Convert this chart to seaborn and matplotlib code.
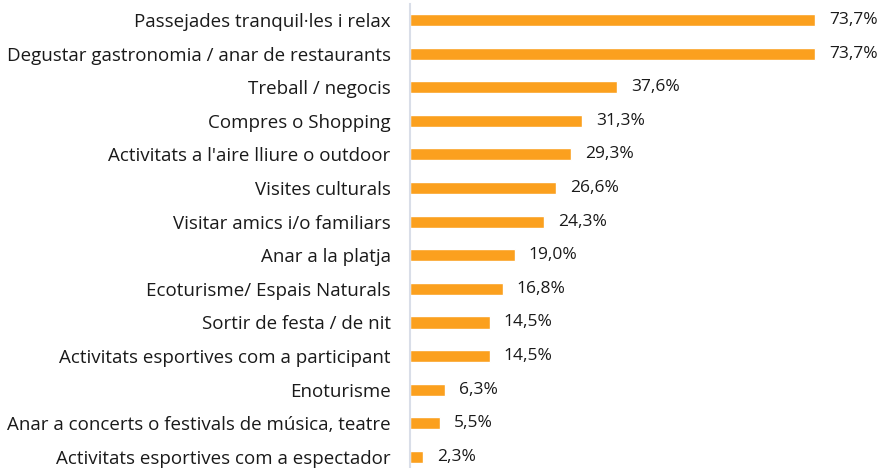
import pandas as pd
import matplotlib.pyplot as plt
import seaborn as sns

# Motius de la visita (%)
categories = [
    "Passejades tranquil·les i relax",
    "Degustar gastronomia / anar de restaurants",
    "Treball / negocis",
    "Compres o Shopping",
    "Activitats a l'aire lliure o outdoor",
    "Visites culturals",
    "Visitar amics i/o familiars",
    "Anar a la platja",
    "Ecoturisme/ Espais Naturals",
    "Sortir de festa / de nit",
    "Activitats esportives com a participant",
    "Enoturisme",
    "Anar a concerts o festivals de música, teatre",
    "Activitats esportives com a espectador",
]
values = [73.7, 73.7, 37.6, 31.3, 29.3, 26.6, 24.3, 19.0, 16.8, 14.5, 14.5, 6.3, 5.5, 2.3]

df = pd.DataFrame({"motiu": categories, "pct": values})

sns.set_style("white")
plt.rcParams['font.family'] = ['Open Sans', 'DejaVu Sans']

fig = plt.figure(figsize=(8.82, 4.68), dpi=100)
ax = fig.add_axes([0.465, 0.0, 0.535, 0.9915])

sns.barplot(data=df, x="pct", y="motiu", orient="h", color="#FBA01E",
            saturation=1, width=0.36, ax=ax)

ax.set_xlim(0, 85.8)
ax.set_ylim(13.33, -0.476)
ax.set_xlabel("")
ax.set_ylabel("")
ax.set_xticks([])
ax.tick_params(axis="y", length=0, pad=14, labelsize=13.5, labelcolor="#1a1a1a")

for s in ["top", "right", "bottom"]:
    ax.spines[s].set_visible(False)
ax.spines["left"].set_color("#D9DEE8")
ax.spines["left"].set_linewidth(1.5)

labels = [f"{v:.1f}%".replace(".", ",") for v in values]
ax.bar_label(ax.containers[0], labels=labels, padding=10, fontsize=12.5, color="#1a1a1a")

plt.savefig("out.png", dpi=100)
